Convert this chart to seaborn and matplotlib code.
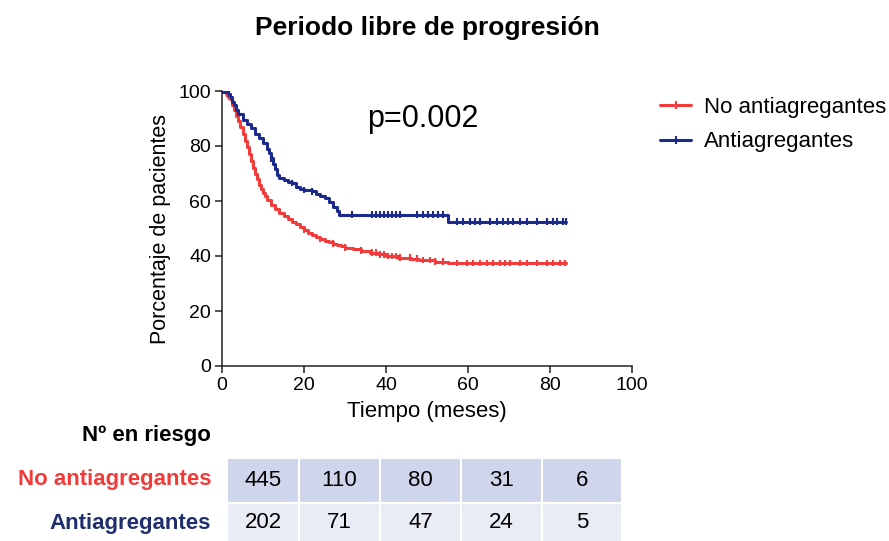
import numpy as np
import pandas as pd
import matplotlib
matplotlib.use("Agg")
import matplotlib.pyplot as plt
from matplotlib.lines import Line2D
from matplotlib.patches import Rectangle
import seaborn as sns

# ---------------- data ----------------
title = "Periodo libre de progresión"
groups = ["No antiagregantes", "Antiagregantes"]
colors = ["#F23B3B", "#1B2A8C"]
label_colors = ["#F03B3B", "#1F2F6E"]

red_t = [0, 1.0, 1.5, 2, 2.5, 3, 3.5, 4, 4.5, 5, 5.5, 6, 6.5, 7, 7.5, 8, 8.5, 9, 9.5, 10,
         10.5, 11, 12, 13, 14, 15, 16, 17, 18, 19, 20, 21, 22, 23, 24, 25, 26, 27, 28,
         29, 30, 32, 34, 36, 38, 40, 43, 46, 48, 52, 55]
red_s = [100, 99, 98, 97, 95, 93, 91, 89, 87, 84.5, 82, 79.5, 77, 74.5, 72, 70, 68, 66, 64.5, 63,
         62, 60.5, 58.5, 57, 55.5, 54.5, 53.5, 52.5, 51.5, 50.5, 49.5, 48.5, 47.8, 47, 46.2, 45.5, 45, 44.5, 44,
         43.5, 43, 42.5, 42, 41.2, 40.6, 40, 39.4, 39, 38.5, 38, 37.5]

blue_t = [0, 1.5, 2, 2.5, 3, 3.5, 4, 5, 6, 7, 8, 9, 10, 11, 11.5, 12, 12.5, 13, 13.5, 14,
          15, 16, 17, 18, 19, 20, 22, 23, 24, 25, 26, 27, 28, 28.5, 55]
blue_s = [100, 99, 98, 96, 95, 93, 91.5, 89.5, 88, 86.5, 84.5, 83, 81, 79, 77.5, 75.5, 73.5, 71.5, 69.5, 68.5,
          67.5, 67, 66.5, 65, 64.5, 64, 63.5, 62.5, 62, 61, 59.5, 58, 56.5, 55, 52.5]

red_cens = [0.3, 0.6, 0.9, 1.2, 1.6, 20, 24, 27, 30, 34, 36.5, 37.5, 38.5, 39.5, 40.5, 41.5, 42.5, 43.5,
            45.9, 47.5, 49.1, 50.7, 52, 54, 57.2, 59.7, 61.3, 62.9, 64.6, 66.2, 67.8, 69, 70.2,
            72.7, 74.3, 76.8, 79.2, 80.8, 82.4, 83.6]
blue_cens = [0.3, 0.6, 0.9, 1.2, 1.6, 12, 17, 20, 22, 31.7, 36.5, 37.5, 38.5, 39.5, 40.5, 41.5, 42.5,
             43.4, 47.5, 49.1, 50.3, 51.5, 52.7, 54, 57.2, 58.9, 60.5, 61.7, 62.9, 65.4, 67, 68.6,
             69.8, 71, 72.7, 74.3, 76.8, 79.2, 80.8, 81.6, 83.2, 84]
t_end = [84, 84]

p_text = "p=0.002"
xlabel = "Tiempo (meses)"
ylabel = "Porcentaje de pacientes"
xticks = [0, 20, 40, 60, 80, 100]
yticks = [0, 20, 40, 60, 80, 100]

risk_header = "Nº en riesgo"
risk_red = [445, 110, 80, 31, 6]
risk_blue = [202, 71, 47, 24, 5]
row_fill = ["#CFD5EA", "#E9EBF5"]

# ---------------- figure ----------------
sns.set_theme(style="ticks")
plt.rcParams["font.family"] = ["Liberation Sans", "DejaVu Sans"]
plt.rcParams["text.color"] = "black"
plt.rcParams["axes.labelcolor"] = "black"

W, H = 889, 541
fig = plt.figure(figsize=(W / 100, H / 100), dpi=100)
ax = fig.add_axes([222 / W, 1 - 366 / H, 410 / W, 275 / H])


def step_frame(t, s, tend, name):
    tt = list(t) + [tend]
    ss = list(s) + [s[-1]]
    return pd.DataFrame({"t": tt, "s": ss, "g": name})


def cens_frame(t, s, c, name):
    idx = np.searchsorted(np.asarray(t), np.asarray(c), side="right") - 1
    return pd.DataFrame({"t": c, "s": np.asarray(s)[idx], "g": name})


curves = pd.concat([step_frame(red_t, red_s, t_end[0], groups[0]),
                    step_frame(blue_t, blue_s, t_end[1], groups[1])], ignore_index=True)
cens = pd.concat([cens_frame(red_t, red_s, red_cens, groups[0]),
                  cens_frame(blue_t, blue_s, blue_cens, groups[1])], ignore_index=True)

pal = dict(zip(groups, colors))
sns.lineplot(data=curves, x="t", y="s", hue="g", palette=pal, estimator=None, sort=False,
             drawstyle="steps-post", linewidth=2.2, legend=False, ax=ax)
sns.scatterplot(data=cens, x="t", y="s", hue="g", palette=pal, marker="|", s=22,
                linewidth=1.5, legend=False, ax=ax, zorder=3)

ax.set_xlim(0, 100)
ax.set_ylim(0, 100)
ax.set_xticks(xticks)
ax.set_yticks(yticks)
ax.tick_params(axis="both", labelsize=14, length=5, width=1.1, colors="#222222",
               labelcolor="black", pad=3)
for sp in ["left", "bottom"]:
    ax.spines[sp].set_linewidth(1.1)
    ax.spines[sp].set_color("#222222")
sns.despine(ax=ax)
ax.set_xlabel(xlabel, fontsize=16, labelpad=5)
ax.set_ylabel(ylabel, fontsize=15.5, labelpad=5)
ax.text(49, 90, p_text, fontsize=22, ha="center", va="center")

fig.text(427 / W, 1 - 28 / H, title, fontsize=19, fontweight="bold", ha="center", va="center")

handles = [Line2D([0], [0], color=c, lw=2.2, marker="|", markersize=6, markeredgewidth=1.5)
           for c in colors]
fig.legend(handles, groups, loc="upper left", bbox_to_anchor=(660 / W, 1 - 97 / H),
           frameon=False, fontsize=16, handlelength=1.4, handletextpad=0.6,
           labelspacing=0.6, borderaxespad=0, borderpad=0)

# ---------------- risk table ----------------
tax = fig.add_axes([0, 0, 1, 1])
tax.set_xlim(0, W)
tax.set_ylim(H, 0)
tax.axis("off")
col_edges = [227, 299, 380, 461, 542, 622]
row_edges = [458, 503, 545]
for r, vals in enumerate([risk_red, risk_blue]):
    for c, v in enumerate(vals):
        x0, x1 = col_edges[c], col_edges[c + 1]
        y0, y1 = row_edges[r], row_edges[r + 1]
        tax.add_patch(Rectangle((x0, y0), x1 - x0, y1 - y0, facecolor=row_fill[r],
                                edgecolor="white", linewidth=1.5))
        tax.text((x0 + x1) / 2, (y0 + min(y1, 541)) / 2, str(v), fontsize=16,
                 ha="center", va="center")
tax.text(211, 436, risk_header, fontsize=16, fontweight="bold", ha="right", va="center")
tax.text(211, 480, groups[0], fontsize=16, fontweight="bold", ha="right", va="center",
         color=label_colors[0])
tax.text(211, 523, groups[1], fontsize=16, fontweight="bold", ha="right", va="center",
         color=label_colors[1])

fig.savefig("out.png", dpi=100)
